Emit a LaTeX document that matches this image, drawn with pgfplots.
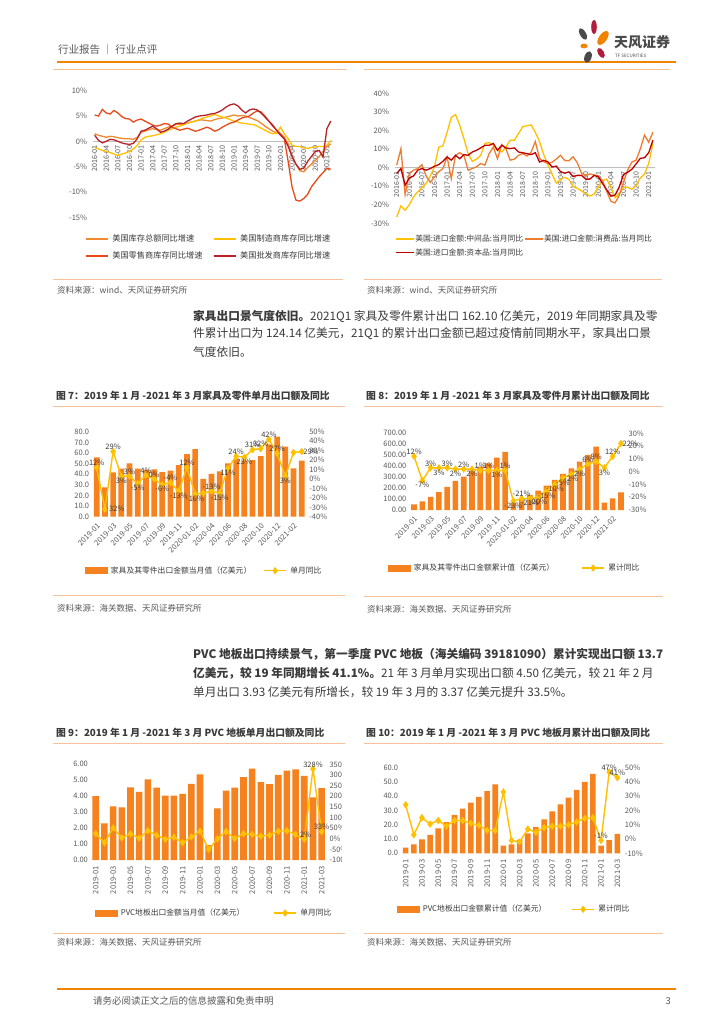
\documentclass[border=0pt]{standalone}
\usepackage{fontspec}
\setmainfont{Noto Sans CJK SC}
\usepackage{pgfplots}
\usepackage{pgfplotstable}
\pgfplotsset{compat=1.18}

\definecolor{tforange}{HTML}{F08300}
\definecolor{lightor}{HTML}{F7C29A}
\definecolor{barc}{HTML}{F5821F}
\definecolor{gold}{HTML}{FFC000}
\definecolor{bodytxt}{HTML}{3A3A3A}
\definecolor{tickc}{HTML}{595959}
\definecolor{zeroc}{HTML}{BFBFBF}
\definecolor{cTot}{HTML}{F0892F}
\definecolor{cMan}{HTML}{FFC000}
\definecolor{cRet}{HTML}{E84A1C}
\definecolor{cWho}{HTML}{B8232A}
\definecolor{cMid}{HTML}{FFC000}
\definecolor{cCon}{HTML}{ED7D31}
\definecolor{cCap}{HTML}{C00000}
\definecolor{logogray}{HTML}{4A4A4A}
\definecolor{logored}{HTML}{B01E3C}

\pgfplotsset{
  /pgf/number format/assume math mode=true,
  base/.style={scale only axis, anchor=south west,
    axis line style={draw=none}, major tick style={draw=none}, minor tick style={draw=none},
    tick label style={font=\fontsize{7.5}{8}\selectfont, text=tickc},
    legend style={draw=none, fill=none, inner sep=0pt, outer sep=0pt,
      font=\fontsize{7.8}{8}\selectfont, text=bodytxt, nodes={inner sep=0.5pt},
      /tikz/every even column/.append style={column sep=0pt}}},
  yoy/.style={gold, line width=1.4pt, mark=diamond*, mark size=2.6pt, mark options={fill=gold, draw=gold}},
  yoylegend/.style={legend image code/.code={\draw[mark repeat=2, mark phase=2, ##1] plot coordinates {(0pt,0pt) (11pt,0pt) (22pt,0pt)};}},
  barlegend/.style={legend image code/.code={\fill[barc] (0pt,-3pt) rectangle (22pt,3pt);}},
  linelegend/.style={legend image code/.code={\draw[##1, line width=1.8pt] (0pt,0pt) -- (#1,0pt);}},
  lab/.style={draw=none, forget plot, point meta=y,
    nodes near coords={\pgfmathprintnumber{\pgfplotspointmeta}\%},
    every node near coord/.append style={anchor=#1, font=\fontsize{7.5}{8}\selectfont, text=bodytxt, inner sep=1.5pt}},
}

% US inventories yoy, 2016-01 .. 2021-02
\pgfplotstableread{
x tot man ret who
0 1.5 -1.2 5.2 1.2
1 1.2 -1.5 5.0 0.2
2 1.0 -1.8 6.3 -0.3
3 0.8 -2.0 5.6 0.0
4 1.0 -2.2 5.4 0.4
5 0.9 -2.5 6.1 0.3
6 0.7 -2.8 5.6 0.0
7 0.6 -2.5 4.9 -0.3
8 0.5 -2.3 4.5 -0.5
9 0.5 -2.0 4.4 -0.6
10 0.4 -1.5 3.8 -0.4
11 0.8 -0.8 4.2 0.5
12 1.8 0.3 4.4 2.0
13 2.0 0.8 4.0 2.2
14 2.3 1.0 3.6 2.6
15 2.5 1.1 3.2 3.0
16 2.3 1.3 3.0 2.5
17 2.2 1.5 3.2 1.8
18 2.5 1.8 3.5 2.0
19 2.8 2.2 3.4 2.4
20 3.0 2.5 2.8 3.0
21 3.3 2.8 2.5 3.5
22 3.4 3.0 2.2 3.6
23 3.3 3.3 2.4 3.5
24 3.6 3.6 2.6 4.0
25 3.8 3.8 2.3 4.4
26 4.0 4.0 2.0 4.8
27 4.2 4.3 2.2 5.0
28 4.2 4.6 2.5 5.1
29 4.1 4.8 2.8 5.2
30 4.0 5.0 2.5 5.4
31 4.3 5.3 2.0 5.5
32 4.5 5.0 2.3 5.8
33 4.6 4.8 2.8 6.2
34 4.8 4.6 3.2 6.8
35 5.0 4.3 3.6 7.2
36 5.2 4.0 3.8 7.4
37 5.0 3.8 4.2 7.0
38 5.1 3.6 4.6 6.2
39 5.0 3.5 4.8 5.6
40 4.7 3.4 5.0 6.2
41 4.4 3.3 5.6 6.4
42 4.1 3.0 6.0 6.2
43 3.6 2.6 5.8 5.6
44 3.0 2.2 5.0 4.8
45 2.5 1.8 4.0 4.0
46 2.0 1.5 3.0 3.2
47 1.7 1.6 2.2 2.2
48 1.5 2.8 1.5 1.2
49 0.8 1.5 0.5 0.5
50 -0.5 0.5 -4.0 -1.0
51 -3.0 -0.8 -9.0 -3.0
52 -4.5 -1.0 -11.6 -4.5
53 -5.8 -1.0 -11.8 -5.5
54 -6.0 -1.3 -11.3 -5.3
55 -5.2 -1.4 -10.5 -4.0
56 -4.5 -1.2 -9.0 -3.0
57 -3.8 -1.1 -8.0 -2.0
58 -3.0 -1.0 -7.0 -1.8
59 -2.0 -1.0 -6.2 -3.1
60 -1.0 -0.8 -5.3 2.5
61 -0.5 0.2 -5.5 4.0
}\tblA

% US imports yoy, 2016-01 .. 2021-02
\pgfplotstableread{
x mid con cap
0 -26.6 1.3 -3.2
1 -20.6 10.2 -0.5
2 -23 -14.5 -9.5
3 -20 -3.2 -5.6
4 -15.8 -1.4 -4.5
5 -13 -0.5 -1.4
6 -10.8 1.6 -0.5
7 -8.6 -4.5 -1.4
8 -4.5 -8 -0.5
9 0.4 -5 0.7
10 11 -2.3 1.6
11 11.7 -0.5 3.4
12 19 5.7 5.7
13 27 -6 4
14 28.5 6.6 6.6
15 22.8 8 4.8
16 15.6 6.6 7
17 7.5 -1.4 6.6
18 3.4 -0.5 8.4
19 4.5 0.4 9.3
20 6.6 2.2 10.6
21 13 1.3 12
22 13.5 7.5 12
23 12 11 13
24 9.3 4.8 9.3
25 8.4 12.4 12
26 11 10.2 10.6
27 14.7 4 10.2
28 14.7 4.5 10.6
29 18.3 6.6 8.4
30 22 7.5 8
31 22.6 6.2 7.5
32 23 8.3 7
33 19 14 8
34 14 5 3
35 7 3.2 3.9
36 1.5 2.1 3.1
37 -3.5 2.9 0.3
38 -8.4 4.6 0.8
39 -6.4 6.6 -2.2
40 -5.2 3.8 -3
41 -6.4 3.7 -2.3
42 -10 5.8 -4.8
43 -11.2 2.6 -4.2
44 -12.5 -3 -4.2
45 -14.1 -4.4 -6.2
46 -15.3 -3.4 -6.2
47 -14.3 -4 -4.2
48 -10.5 -4.5 -5
49 -7 -7 -8.5
50 -6.2 -12.8 -12
51 -10.7 -18.2 -15.4
52 -16.2 -19 -14.8
53 -13.8 -14.9 -10.3
54 -10.7 -7.9 -3.7
55 -10.6 -1.2 -2.5
56 -11.6 3 -0.9
57 -9.6 4 2
58 -5.6 10 5
59 -3.5 17.5 5.3
60 2.2 13.6 8
61 13 19 14.7
}\tblB

% furniture monthly export (100m USD) and yoy
\pgfplotstableread{
x v y
0 55.8 12
1 27.6 -32
2 41.7 29
3 45.2 3
4 50.2 3
5 45.2 -5
6 44.0 4
7 44.5 0
8 42.0 -6
9 43.3 -4
10 48.6 -13
11 59.0 12
12 63.7 -16
13 35.5 -15
14 40.2 -13
15 42.7 -15
16 50.2 11
17 54.0 24
18 53.0 23
19 53.3 31
20 57.1 32
21 68.0 42
22 75.3 27
23 66.0 3
24 45.5 28
25 52.7 29
}\tblSeven

% furniture cumulative export and yoy
\pgfplotstableread{
x v y
0 52 12
1 79 -7
2 119 3
3 164 3
4 210 3
5 265 2
6 304 2
7 359 2
8 396 1
9 426 1
10 478 1
11 530 1
12 64 -23
13 99 -21
14 137 -21
15 177 -20
16 222 -15
17 274 -10
18 329 -5
19 380 -2
20 441 2
21 502 6
22 578 8
23 67 3
24 106 12
25 161 22
}\tblEight

% PVC flooring monthly export and yoy
\pgfplotstableread{
x v y
0 4.01 24
1 2.30 -19
2 3.37 51
3 3.30 4
4 4.56 23
5 4.27 3
6 5.06 38
7 4.54 17
8 4.03 -3
9 4.03 7
10 4.14 -19
11 4.77 9
12 5.37 35
13 0.94 -50
14 3.24 0
15 4.35 34
16 4.54 1
17 5.19 24
18 5.73 20
19 4.89 12
20 4.75 17
21 5.33 35
22 5.60 38
23 5.69 20
24 5.27 -2
25 3.93 328
26 4.50 33
}\tblNine

% PVC flooring cumulative export and yoy
\pgfplotstableread{
x v y
0 4.0 24
1 6.3 3
2 9.7 15
3 13.0 10.5
4 17.5 13
5 21.8 9
6 26.9 13
7 31.4 13
8 35.5 11
9 39.5 9.6
10 43.6 6
11 48.4 6
12 5.4 33
13 6.3 -1
14 9.6 -2
15 14.0 7
16 18.5 4.7
17 23.7 8
18 29.4 9
19 34.3 9
20 39.1 10
21 44.4 12
22 50.0 14.5
23 55.7 15
24 5.3 -1
25 9.2 47
26 13.7 43
}\tblTen

\begin{document}
\begin{tikzpicture}
\useasboundingbox (0,0) rectangle (724pt,-1024pt);
\fill[white] (0,0) rectangle (724pt,-1024pt);

\begin{scope}[x=1pt,y=-1pt]
% header
\node[anchor=west, inner sep=0, text=tickc, font=\fontsize{10.5}{11}\selectfont] at (58,50) {行业报告 ｜ 行业点评};
\draw[tforange, line width=1.4pt] (57,62) -- (676,62);
\fill[logogray] (583,34) ellipse [x radius=3, y radius=6.5, rotate=30];
\fill[logored] (594,27) ellipse [x radius=2.8, y radius=7];
\fill[tforange] (603,38) ellipse [x radius=4, y radius=8, rotate=-35];
\fill[tforange] (584,46) ellipse [x radius=3.6, y radius=2.4];
\fill[logored] (601,53) ellipse [x radius=3, y radius=5.5, rotate=30];
\fill[logogray] (588,57) ellipse [x radius=3.5, y radius=6, rotate=-20];
\node[anchor=west, inner sep=0, text=logogray, font=\bfseries\fontsize{14}{14}\selectfont] at (614,42) {天风证券};
\node[anchor=west, inner sep=0, text=logogray, font=\fontsize{4.5}{5}\selectfont] at (615,56) {TF SECURITIES};
\draw[lightor, line width=0.9pt] (53,69) -- (347,69);
\draw[lightor, line width=0.9pt] (364,69) -- (670,69);

% sources of top charts
\draw[lightor, line width=0.9pt] (53,279) -- (343,279);
\draw[lightor, line width=0.9pt] (364,279) -- (662,279);
\node[anchor=west, inner sep=0, text=tickc, font=\fontsize{8.5}{9}\selectfont] at (57,290) {资料来源：wind、天风证券研究所};
\node[anchor=west, inner sep=0, text=tickc, font=\fontsize{8.5}{9}\selectfont] at (367,290) {资料来源：wind、天风证券研究所};

% paragraphs
\begin{scope}[every node/.style={anchor=west, inner sep=0, text=bodytxt, font=\fontsize{11.7}{14}\selectfont}]
\node at (193,316) {{\bfseries 家具出口景气度依旧。}2021Q1 家具及零件累计出口 162.10 亿美元，2019 年同期家具及零};
\node at (193,334) {件累计出口为 124.14 亿美元，21Q1 的累计出口金额已超过疫情前同期水平，家具出口景};
\node at (193,352) {气度依旧。};
\node at (193,654) {\bfseries PVC 地板出口持续景气，第一季度 PVC 地板（海关编码 39181090）累计实现出口额 13.7};
\node at (193,673) {{\bfseries 亿美元，较 19 年同期增长 41.1\%。}21 年 3 月单月实现出口额 4.50 亿美元，较 21 年 2 月};
\node at (193,692) {单月出口 3.93 亿美元有所增长，较 19 年 3 月的 3.37 亿美元提升 33.5\%。};
\end{scope}

% figure titles
\begin{scope}[every node/.style={anchor=west, inner sep=0, text=bodytxt, font=\bfseries\fontsize{9.8}{10}\selectfont}]
\node at (56,396) {图 7：2019 年 1 月 -2021 年 3 月家具及零件单月出口额及同比};
\node at (366,396) {图 8：2019 年 1 月 -2021 年 3 月家具及零件月累计出口额及同比};
\node at (56,733) {图 9：2019 年 1 月 -2021 年 3 月 PVC 地板单月出口额及同比};
\node at (366,733) {图 10：2019 年 1 月 -2021 年 3 月 PVC 地板月累计出口额及同比};
\end{scope}
\draw[lightor, line width=0.9pt] (53,406) -- (345,406);
\draw[lightor, line width=0.9pt] (364,406) -- (663,406);
\draw[lightor, line width=0.9pt] (53,743) -- (345,743);
\draw[lightor, line width=0.9pt] (364,743) -- (663,743);

% sources of lower charts
\draw[lightor, line width=0.9pt] (53,595) -- (345,595);
\draw[lightor, line width=0.9pt] (364,596) -- (663,596);
\draw[lightor, line width=0.9pt] (53,933) -- (345,933);
\draw[lightor, line width=0.9pt] (364,933) -- (663,933);
\begin{scope}[every node/.style={anchor=west, inner sep=0, text=tickc, font=\fontsize{8.5}{9}\selectfont}]
\node at (57,608) {资料来源：海关数据、天风证券研究所};
\node at (367,609) {资料来源：海关数据、天风证券研究所};
\node at (57,942) {资料来源：海关数据、天风证券研究所};
\node at (367,942) {资料来源：海关数据、天风证券研究所};
\end{scope}

% footer
\draw[tforange, line width=1.4pt] (57,989) -- (676,989);
\node[anchor=west, inner sep=0, text=tickc, font=\fontsize{9.5}{10}\selectfont] at (93,1001) {请务必阅读正文之后的信息披露和免责申明};
\node[anchor=east, inner sep=0, text=tickc, font=\fontsize{9.5}{10}\selectfont] at (671,1001) {3};
\end{scope}

% ---------- chart A: US inventories ----------
\begin{axis}[base, at={(92.7pt,-217.3pt)}, width=240pt, height=126.6pt,
  xmin=-0.5, xmax=61.5, ymin=-15, ymax=10,
  axis x line=middle, axis y line=left,
  x axis line style={draw=zeroc, line width=0.6pt, -}, y axis line style={draw=none},
  every inner x axis line/.append style={-},
  hide obscured x ticks=false, hide obscured y ticks=false,
  ytick={-15,-10,...,10}, yticklabel={\pgfmathprintnumber{\tick}\%},
  xtick={0,3,...,60},
  xticklabels={2016-01,2016-04,2016-07,2016-10,2017-01,2017-04,2017-07,2017-10,2018-01,2018-04,2018-07,2018-10,2019-01,2019-04,2019-07,2019-10,2020-01,2020-04,2020-07,2020-10,2021-01},
  xticklabel style={rotate=90, anchor=east, inner sep=1.5pt, font=\fontsize{7.2}{8}\selectfont},
  linelegend=22pt, legend columns=2,
  legend style={at={(axis description cs:-0.032,-0.2385)}, anchor=west, font=\fontsize{8.2}{9}\selectfont, row sep=7pt}]
\addplot[cTot, line width=1.3pt] table[x=x, y=tot] {\tblA};
\addlegendentry{\makebox[103pt][l]{\hspace{3pt}美国库存总额同比增速}}
\addplot[cMan, line width=1.3pt] table[x=x, y=man] {\tblA};
\addlegendentry{\hspace{3pt}美国制造商库存同比增速}
\addplot[cRet, line width=1.3pt] table[x=x, y=ret] {\tblA};
\addlegendentry{\makebox[103pt][l]{\hspace{3pt}美国零售商库存同比增速}}
\addplot[cWho, line width=1.3pt] table[x=x, y=who] {\tblA};
\addlegendentry{\hspace{3pt}美国批发商库存同比增速}
\end{axis}

% ---------- chart B: US imports ----------
\begin{axis}[base, at={(394.6pt,-223.3pt)}, width=260.4pt, height=130pt,
  xmin=-0.5, xmax=61.5, ymin=-30, ymax=40,
  axis x line=middle, axis y line=left,
  x axis line style={draw=zeroc, line width=0.6pt, -}, y axis line style={draw=none},
  every inner x axis line/.append style={-},
  hide obscured x ticks=false, hide obscured y ticks=false,
  ytick={-30,-20,...,40}, yticklabel={\pgfmathprintnumber{\tick}\%},
  xtick={0,3,...,60},
  xticklabels={2016-01,2016-04,2016-07,2016-10,2017-01,2017-04,2017-07,2017-10,2018-01,2018-04,2018-07,2018-10,2019-01,2019-04,2019-07,2019-10,2020-01,2020-04,2020-07,2020-10,2021-01},
  xticklabel style={rotate=90, anchor=east, inner sep=1.5pt, font=\fontsize{7}{8}\selectfont},
  linelegend=18pt, legend columns=2,
  legend style={at={(axis description cs:0.0015,-0.172)}, anchor=west, font=\fontsize{7.8}{8}\selectfont, row sep=4.5pt}]
\addplot[cMid, line width=1.3pt] table[x=x, y=mid] {\tblB};
\addlegendentry{\makebox[108pt][l]{美国:进口金额:中间品:当月同比}}
\addplot[cCon, line width=1.3pt] table[x=x, y=con] {\tblB};
\addlegendentry{美国:进口金额:消费品:当月同比}
\addplot[cCap, line width=1.3pt] table[x=x, y=cap] {\tblB};
\addlegendentry{美国:进口金额:资本品:当月同比}
\end{axis}

% ---------- chart 7 ----------
\begin{axis}[base, at={(92.6pt,-516.7pt)}, width=213.2pt, height=85pt,
  xmin=-0.5, xmax=25.5, ymin=0, ymax=80, ytick={0,10,...,80},
  yticklabel style={/pgf/number format/.cd, fixed, fixed zerofill, precision=1},
  xtick={0,2,...,24},
  xticklabels={2019-01,2019-03,2019-05,2019-07,2019-09,2019-11,2020-01-02,2020-04,2020-06,2020-08,2020-10,2020-12,2021-02},
  xticklabel style={rotate=45, anchor=north east, inner sep=1pt},
  ybar, bar width=5.7pt]
\addplot[fill=barc, draw=none] table[x=x, y=v] {\tblSeven};
\end{axis}
\begin{axis}[base, at={(92.6pt,-516.7pt)}, width=213.2pt, height=85pt,
  xmin=-0.5, xmax=25.5, ymin=-40, ymax=50, ytick={-40,-30,...,50},
  yticklabel pos=right, yticklabel={\pgfmathprintnumber{\tick}\%}, xtick=\empty, clip=false,
  yoylegend, legend columns=2,
  legend style={at={(axis description cs:-0.0356,-0.635)}, anchor=west}]
\addlegendimage{barlegend}
\addlegendentry{\makebox[155pt][l]{\hspace{3pt}家具及其零件出口金额当月值（亿美元）}}
\addplot[yoy] table[x=x, y=y] {\tblSeven};
\addlegendentry{\hspace{3pt}单月同比}
\addplot[lab=south] table {
x y
0 12
2 29
4 3
6 4
7 0
9 -4
11 12
14 -13
17 24
19 31
20 32
21 42
22 27
};
\addplot[lab=north] table {
x y
3 3
5 -5
8 -6
10 -13
12 -16
15 -15
16 11
18 23
23 3
};
\addplot[lab=west] table {
x y
1 -32
25 29
};
\end{axis}

% ---------- chart 8 ----------
\begin{axis}[base, at={(409.9pt,-510pt)}, width=215.2pt, height=76.7pt,
  xmin=-0.5, xmax=25.5, ymin=0, ymax=700, ytick={0,100,...,700},
  yticklabel style={/pgf/number format/.cd, fixed, fixed zerofill, precision=2, 1000 sep={}},
  xtick={0,2,...,24},
  xticklabels={2019-01,2019-03,2019-05,2019-07,2019-09,2019-11,2020-01-02,2020-04,2020-06,2020-08,2020-10,2020-12,2021-02},
  xticklabel style={rotate=45, anchor=north east, inner sep=1pt},
  ybar, bar width=5.6pt]
\addplot[fill=barc, draw=none] table[x=x, y=v] {\tblEight};
\end{axis}
\begin{axis}[base, at={(409.9pt,-510pt)}, width=215.2pt, height=76.7pt,
  xmin=-0.5, xmax=25.5, ymin=-30, ymax=30, ytick={-30,-20,...,30},
  yticklabel pos=right, yticklabel={\pgfmathprintnumber{\tick}\%}, xtick=\empty, clip=false,
  yoylegend, legend columns=2,
  legend style={at={(axis description cs:-0.1018,-0.756)}, anchor=west}]
\addlegendimage{barlegend}
\addlegendentry{\makebox[170pt][l]{\hspace{3pt}家具及其零件出口金额累计值（亿美元）}}
\addplot[yoy] table[x=x, y=y] {\tblEight};
\addlegendentry{\hspace{3pt}累计同比}
\addplot[lab=south] table {
x y
0 12
2 3
4 3
6 2
8 1
9 1
11 1
13 -21
21 6
22 8
24 12
};
\addplot[lab=north] table {
x y
1 -7
3 3
5 2
7 2
10 1
12 -23
14 -21
15 -20
16 -15
17 -10
18 -5
19 -2
20 2
23 3
};
\addplot[lab=west] table {
x y
25 22
};
\end{axis}

% ---------- chart 9 ----------
\begin{axis}[base, at={(91.4pt,-860pt)}, width=234.6pt, height=95.7pt,
  xmin=-0.5, xmax=26.5, ymin=0, ymax=6, ytick={0,1,...,6},
  yticklabel style={/pgf/number format/.cd, fixed, fixed zerofill, precision=2},
  xtick={0,2,...,26},
  xticklabels={2019-01,2019-03,2019-05,2019-07,2019-09,2019-11,2020-01,2020-03,2020-05,2020-07,2020-09,2020-11,2021-01,2021-03},
  xticklabel style={rotate=90, anchor=east, inner sep=2pt},
  ybar, bar width=6.6pt]
\addplot[fill=barc, draw=none] table[x=x, y=v] {\tblNine};
\end{axis}
\begin{scope}
\clip (0pt,0pt) rectangle (341pt,-1024pt);
\begin{axis}[base, at={(91.4pt,-860pt)}, width=234.6pt, height=95.7pt,
  xmin=-0.5, xmax=26.5, ymin=-100, ymax=350, ytick={-100,-50,...,350},
  yticklabel pos=right, yticklabel={\pgfmathprintnumber{\tick}\%}, xtick=\empty, clip=false,
  yoylegend, legend columns=2,
  legend style={at={(axis description cs:0.0153,-0.554)}, anchor=west}]
\addlegendimage{barlegend}
\addlegendentry{\makebox[155pt][l]{\hspace{3pt}PVC地板出口金额当月值（亿美元）}}
\addplot[yoy] table[x=x, y=y] {\tblNine};
\addlegendentry{\hspace{3pt}单月同比}
\addplot[lab=south] table {
x y
24 -2
25 328
26 33
};
\end{axis}
\end{scope}

% ---------- chart 10 ----------
\begin{axis}[base, at={(401.6pt,-853.3pt)}, width=219.8pt, height=85.6pt,
  xmin=-0.5, xmax=26.5, ymin=0, ymax=60, ytick={0,10,...,60},
  yticklabel style={/pgf/number format/.cd, fixed, fixed zerofill, precision=1},
  xtick={0,2,...,26},
  xticklabels={2019-01,2019-03,2019-05,2019-07,2019-09,2019-11,2020-01,2020-03,2020-05,2020-07,2020-09,2020-11,2021-01,2021-03},
  xticklabel style={rotate=90, anchor=east, inner sep=2pt},
  ybar, bar width=5.6pt]
\addplot[fill=barc, draw=none] table[x=x, y=v] {\tblTen};
\end{axis}
\begin{axis}[base, at={(401.6pt,-853.3pt)}, width=219.8pt, height=85.6pt,
  xmin=-0.5, xmax=26.5, ymin=-10, ymax=50, ytick={-10,0,...,50},
  yticklabel pos=right, yticklabel={\pgfmathprintnumber{\tick}\%}, xtick=\empty, clip=false,
  yoylegend, legend columns=2,
  legend style={at={(axis description cs:-0.021,-0.654)}, anchor=west}]
\addlegendimage{barlegend}
\addlegendentry{\makebox[151pt][l]{\hspace{3pt}PVC地板出口金额累计值（亿美元）}}
\addplot[yoy] table[x=x, y=y] {\tblTen};
\addlegendentry{\hspace{3pt}累计同比}
\addplot[draw=none, forget plot, point meta=explicit symbolic,
  nodes near coords={\pgfplotspointmeta\%},
  every node near coord/.append style={anchor=south, font=\fontsize{7.5}{8}\selectfont, text=bodytxt, inner sep=1.5pt}]
  table[x=x, y=y, meta=lab] {
x y lab
24 -1 -1
25 47 47
26 43 41
};
\end{axis}

\end{tikzpicture}
\end{document}
